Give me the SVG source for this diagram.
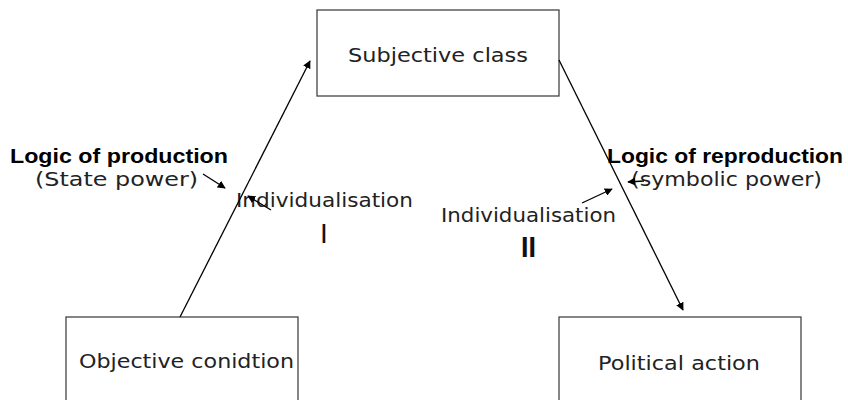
<svg xmlns="http://www.w3.org/2000/svg" width="848" height="400" viewBox="0 0 848 400">
<style>
.box{fill:#fff;stroke:#444;stroke-width:1.3}
.t{font-family:"DejaVu Sans","Liberation Sans",sans-serif;font-size:19px;fill:#222}
.b{font-family:"Liberation Sans","DejaVu Sans",sans-serif;font-size:21px;font-weight:bold;fill:#000}
.r{font-family:"Liberation Sans","DejaVu Sans",sans-serif;fill:#111}
.ln{stroke:#000;stroke-width:1.3;fill:none}
</style>
<defs>
<marker id="ah" viewBox="0 0 10 10" refX="9" refY="5" markerWidth="8" markerHeight="8" markerUnits="userSpaceOnUse" orient="auto">
<path d="M0,0 L10,5 L0,10 z" fill="#000"/>
</marker>
</defs>
<rect width="848" height="400" fill="#fff"/>
<g id="subjective">
<rect class="box" x="317" y="10" width="242" height="86"/>
<text class="t" x="348" y="62" textLength="180" lengthAdjust="spacingAndGlyphs">Subjective class</text>
</g>
<g id="objective">
<rect class="box" x="66" y="317" width="232" height="100"/>
<text class="t" x="79" y="368" textLength="215" lengthAdjust="spacingAndGlyphs">Objective conidtion</text>
</g>
<g id="political">
<rect class="box" x="559" y="317" width="242" height="100"/>
<text class="t" x="598" y="370" textLength="162" lengthAdjust="spacingAndGlyphs">Political action</text>
</g>
<g id="labels">
<text class="b" x="10" y="163" textLength="218" lengthAdjust="spacingAndGlyphs">Logic of production</text>
<text class="t" x="35" y="186" textLength="163" lengthAdjust="spacingAndGlyphs">(State power)</text>
<text class="t" x="236" y="207" textLength="177" lengthAdjust="spacingAndGlyphs">Individualisation</text>
<text class="r" x="320" y="243" style="font-size:28px">I</text>
<text class="b" x="607" y="163" textLength="236" lengthAdjust="spacingAndGlyphs">Logic of reproduction</text>
<text class="t" x="631" y="186" textLength="191" lengthAdjust="spacingAndGlyphs">(symbolic power)</text>
<text class="t" x="441" y="222" textLength="175" lengthAdjust="spacingAndGlyphs">Individualisation</text>
<text class="r" x="521" y="257" style="font-size:30px;font-weight:bold" textLength="15" lengthAdjust="spacingAndGlyphs">II</text>
</g>
<g id="connectors">
<line class="ln" x1="180" y1="317" x2="310" y2="61" marker-end="url(#ah)"/>
<line class="ln" x1="559" y1="60" x2="683" y2="310" marker-end="url(#ah)"/>
<line class="ln" x1="203" y1="174" x2="225" y2="188" marker-end="url(#ah)"/>
<line class="ln" x1="271" y1="210" x2="248" y2="196" marker-end="url(#ah)"/>
<line class="ln" x1="582" y1="203" x2="612" y2="189" marker-end="url(#ah)"/>
<line class="ln" x1="644" y1="181" x2="628" y2="182" marker-end="url(#ah)"/>
</g>
</svg>
